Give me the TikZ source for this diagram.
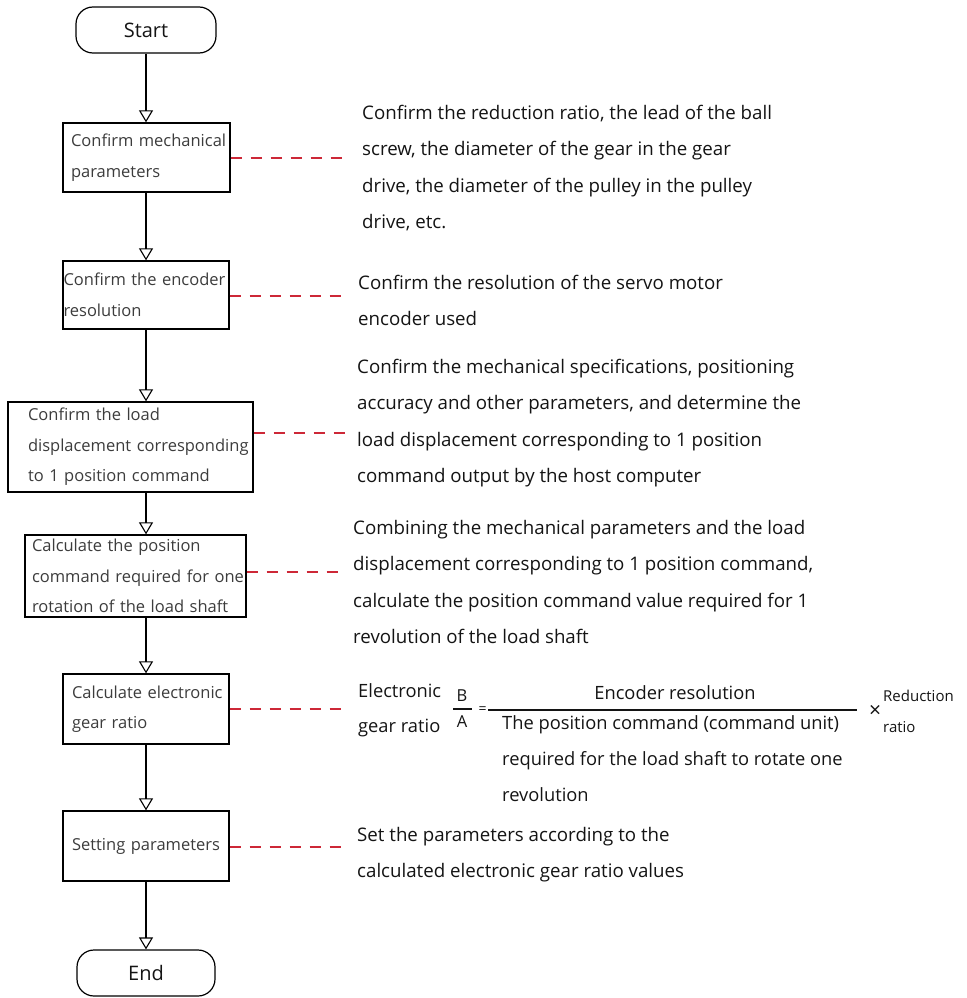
\documentclass[tikz,border=0pt]{standalone}
\usepackage{fontspec}
\setmainfont{Open Sans}
\usetikzlibrary{arrows.meta}
\definecolor{dashred}{RGB}{205,40,55}
\definecolor{boxtxt}{RGB}{60,60,60}
\definecolor{maintxt}{RGB}{20,20,20}
\tikzset{
  flow/.style={line width=1.2pt, black, -{Triangle[open, width=14pt, length=12pt, line width=1.1pt]}},
  dashline/.style={draw=dashred, line width=1.3pt, dash pattern=on 11pt off 9pt},
  term/.style={draw, line width=1.2pt, rounded corners=17pt, minimum height=46pt, inner sep=0pt,
    font=\fontsize{20}{24}\selectfont, text=maintxt},
  stepbox/.style={draw, line width=1.3pt, rectangle, inner ysep=0pt, align=left,
    font=\fontsize{16.5}{30.5}\selectfont, text=boxtxt},
  note/.style={anchor=north west, inner sep=0pt, align=left,
    font=\fontsize{18.7}{36.3}\selectfont, text=maintxt},
}
\begin{document}
\begin{tikzpicture}[x=1pt, y=-1pt]
\useasboundingbox (0,0) rectangle (966,998);
% terminals
\node[term, minimum width=140pt] (start) at (146,30) {Start};
\node[term, minimum width=138pt] (end) at (146,973) {End};
% process boxes
\node[stepbox, minimum width=167pt, minimum height=69pt, inner xsep=8pt, text width=151pt] (b1) at (146.5,157.5)
  {\mbox{Confirm mechanical}\\\mbox{parameters}};
\node[stepbox, minimum width=166pt, minimum height=68pt, inner xsep=0.5pt, text width=165pt] (b2) at (146,295)
  {\mbox{Confirm the encoder}\\\mbox{resolution}};
\node[stepbox, minimum width=245pt, minimum height=90pt, inner xsep=20pt, text width=205pt] (b3) at (130.5,447)
  {\mbox{Confirm the load}\\\mbox{displacement corresponding}\\\mbox{to 1 position command}};
\node[stepbox, minimum width=221pt, minimum height=82pt, inner xsep=7pt, text width=207pt] (b4) at (135.5,576)
  {\mbox{Calculate the position}\\\mbox{command required for one}\\\mbox{rotation of the load shaft}};
\node[stepbox, minimum width=166pt, minimum height=70pt, inner xsep=9pt, text width=148pt] (b5) at (146,709)
  {\mbox{Calculate electronic}\\\mbox{gear ratio}};
\node[stepbox, minimum width=166pt, minimum height=70pt, inner xsep=9pt, text width=148pt] (b6) at (146,846)
  {\mbox{Setting parameters}};
% flow connectors
\draw[flow] (start.south) -- (b1.north -| start.south);
\draw[flow] (b1.south -| start.south) -- (b2.north -| start.south);
\draw[flow] (b2.south -| start.south) -- (b3.north -| start.south);
\draw[flow] (b3.south -| start.south) -- (b4.north -| start.south);
\draw[flow] (b4.south -| start.south) -- (b5.north -| start.south);
\draw[flow] (b5.south -| start.south) -- (b6.north -| start.south);
\draw[flow] (b6.south -| start.south) -- (end.north);
% dashed leaders
\coordinate (d1) at (345,158);
\coordinate (d2) at (345,296);
\coordinate (d3) at (345,433);
\coordinate (d4) at (345,572);
\coordinate (d5) at (345,709);
\coordinate (d6) at (345,847);
\draw[dashline] (b1.east |- d1) -- (d1);
\draw[dashline] (b2.east |- d2) -- (d2);
\draw[dashline] (b3.east |- d3) -- (d3);
\draw[dashline] (b4.east |- d4) -- (d4);
\draw[dashline] (b5.east |- d5) -- (d5);
\draw[dashline] (b6.east |- d6) -- (d6);
% notes
\node[note] (t1) at (362,105) {Confirm the reduction ratio, the lead of the ball\\screw, the diameter of the gear in the gear\\drive, the diameter of the pulley in the pulley\\drive, etc.};
\node[note] (t2) at (358,275) {Confirm the resolution of the servo motor\\encoder used};
\node[note] (t3) at (357,359) {Confirm the mechanical specifications, positioning\\accuracy and other parameters, and determine the\\load displacement corresponding to 1 position\\command output by the host computer};
\node[note] (t4) at (353,520) {Combining the mechanical parameters and the load\\displacement corresponding to 1 position command,\\calculate the position command value required for 1\\revolution of the load shaft};
\node[note] (t6) at (357,827) {Set the parameters according to the\\calculated electronic gear ratio values};
% formula
\node[note, font=\fontsize{18.3}{35}\selectfont] (egr) at (358,683) {Electronic\\gear ratio};
\node[inner sep=0pt, font=\fontsize{16.5}{20}\selectfont, text=maintxt] (fb) at (462,696) {B};
\node[inner sep=0pt, font=\fontsize{16.5}{20}\selectfont, text=maintxt] (fa) at (462,722) {A};
\draw[line width=1.2pt, maintxt] (453,709) -- (472,709);
\node[inner sep=0pt, font=\fontsize{14}{16}\selectfont, text=maintxt] (eq) at (482.5,710) {=};
\draw[line width=1.3pt, maintxt] (488,710) -- (857,710);
\node[inner sep=0pt, font=\fontsize{18.3}{22}\selectfont, text=maintxt] (num) at (675,693) {Encoder resolution};
\node[note, font=\fontsize{18.3}{36}\selectfont] (den) at (502,715) {The position command (command unit)\\required for the load shaft to rotate one\\revolution};
\node[inner sep=0pt, font=\fontsize{21}{24}\selectfont, text=maintxt] (times) at (875,711) {×};
\node[note, font=\fontsize{15}{31}\selectfont] (red) at (883,690) {Reduction\\ratio};
\end{tikzpicture}
\end{document}
